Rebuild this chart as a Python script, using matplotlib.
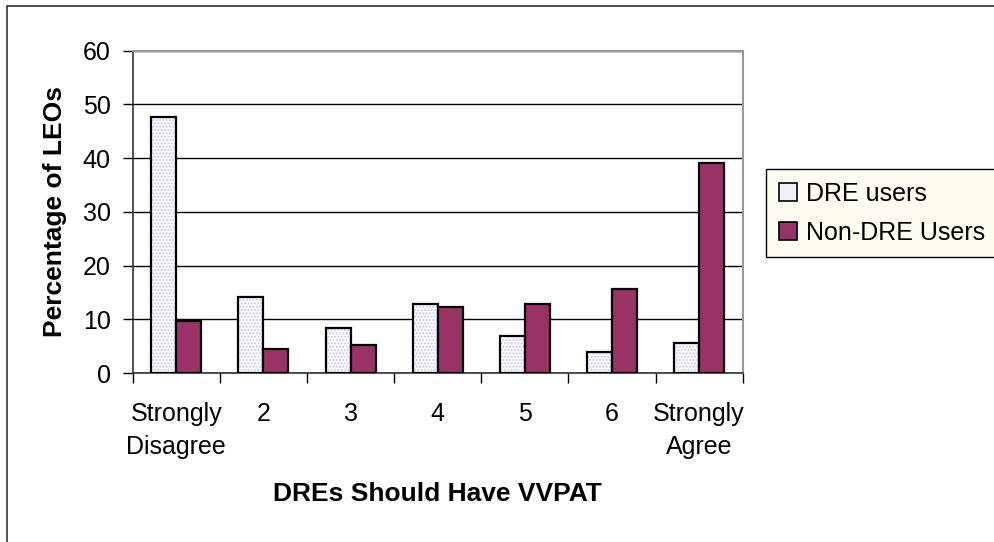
import matplotlib
matplotlib.use("Agg")
import matplotlib.pyplot as plt
import numpy as np
from matplotlib.patches import Rectangle, Patch

categories = ["Strongly\nDisagree", "2", "3", "4", "5", "6", "Strongly\nAgree"]
dre_users = [47.6, 14.1, 8.3, 12.9, 6.8, 4.0, 5.6]
non_dre_users = [9.7, 4.5, 5.3, 12.2, 12.9, 15.7, 39.1]
series_names = ["DRE users", "Non-DRE Users"]
y_ticks = [0, 10, 20, 30, 40, 50, 60]

plt.rcParams['font.family'] = ['Liberation Sans', 'DejaVu Sans']
plt.rcParams['hatch.linewidth'] = 0.8

FS = 18
FSB = 19

fig = plt.figure(figsize=(9.95, 5.42), dpi=100)
fig.patches.append(Rectangle((7/995, -0.1), 1.2, 1 - 6/542 + 0.1, transform=fig.transFigure,
                             fill=False, edgecolor='#333333', linewidth=1.2))
ax = fig.add_axes([0.1334, 0.3118, 0.6130, 0.5947])

x = np.arange(len(categories))
w = 0.287
# dotted light fill
ax.bar(x - w/2, dre_users, w, facecolor='#FAFAFF', edgecolor='#C4C4F0', linewidth=0,
       hatch='.....', zorder=3)
ax.bar(x - w/2, dre_users, w, fill=False, edgecolor='black', linewidth=1.6, zorder=4)
ax.bar(x + w/2, non_dre_users, w, facecolor='#993366', edgecolor='black', linewidth=1.6,
       zorder=4)

ax.set_xlim(-0.5, len(categories) - 0.5)
ax.set_ylim(0, 60)
ax.set_yticks(y_ticks)
ax.yaxis.grid(True, color='black', linewidth=1.0, zorder=0)
ax.set_axisbelow(True)

ax.set_xticks(x)
ax.set_xticklabels(categories, linespacing=1.45)
ax.set_xticks(np.arange(len(categories) + 1) - 0.5, minor=True)
ax.tick_params(axis='x', which='major', length=0, pad=21, labelsize=FS)
ax.tick_params(axis='x', which='minor', length=7, width=1.0, direction='out')
ax.tick_params(axis='y', length=7, width=1.0, direction='out', labelsize=FS, pad=9)

for s in ['top', 'right']:
    ax.spines[s].set_color('#999999')
    ax.spines[s].set_linewidth(1.5)
for s in ['left', 'bottom']:
    ax.spines[s].set_color('#333333')
    ax.spines[s].set_linewidth(1.2)

ax.set_xlabel("DREs Should Have VVPAT", fontsize=FSB, fontweight='bold', labelpad=17)
ax.set_ylabel("Percentage of LEOs", fontsize=FSB, fontweight='bold', labelpad=11)

handles = [Patch(facecolor='#F0F0FC', edgecolor='black', linewidth=1.2),
           Patch(facecolor='#993366', edgecolor='black', linewidth=1.2)]
leg = fig.legend(handles, series_names, loc='upper left', bbox_to_anchor=(0.770, 0.688),
                 fontsize=FS, frameon=True, fancybox=False, handlelength=0.75,
                 handleheight=0.75, handletextpad=0.35, borderpad=0.5, labelspacing=0.6,
                 borderaxespad=0)
leg.get_frame().set_facecolor('#FFFDF2')
leg.get_frame().set_edgecolor('black')
leg.get_frame().set_linewidth(1.0)
leg.get_frame().set_alpha(1)

fig.savefig("out.png", dpi=100)
